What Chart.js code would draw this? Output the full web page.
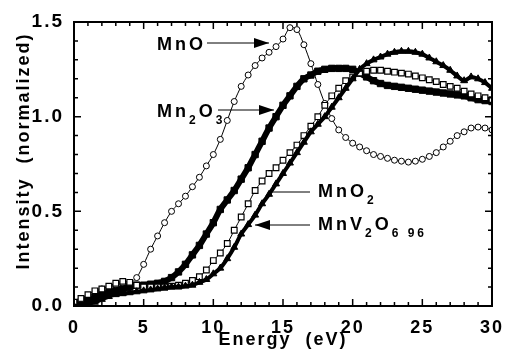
<!DOCTYPE html>
<html>
<head>
<meta charset="utf-8">
<script src="https://cdn.jsdelivr.net/npm/chart.js@4.4.0/dist/chart.umd.min.js"></script>
<style>
  html, body { margin: 0; padding: 0; background: #fff; }
  #wrap { width: 508px; height: 349px; }
</style>
</head>
<body>
<div id="wrap"><canvas id="spec" width="508" height="349"></canvas></div>
<script>
// photon energy (eV)
const energy = [
  0, 0.5, 1, 1.5, 2, 2.5, 3, 3.5, 4, 4.5, 5, 5.5, 6, 6.5, 7, 7.5, 8, 8.5, 9, 9.5,
  10, 10.5, 11, 11.5, 12, 12.5, 13, 13.5, 14, 14.5, 15, 15.5, 16, 16.5, 17, 17.5, 18, 18.5, 19, 19.5,
  20, 20.5, 21, 21.5, 22, 22.5, 23, 23.5, 24, 24.5, 25, 25.5, 26, 26.5, 27, 27.5, 28, 28.5, 29, 29.5, 30
];

const mnO = [
  0.02, 0.035, 0.05, 0.07, 0.09, 0.10, 0.11, 0.12, 0.12, 0.15, 0.22, 0.30, 0.37, 0.44, 0.50, 0.54, 0.58, 0.63, 0.68, 0.74,
  0.80, 0.88, 0.98, 1.08, 1.16, 1.22, 1.27, 1.31, 1.34, 1.37, 1.41, 1.47, 1.46, 1.38, 1.28, 1.17, 1.07, 0.99, 0.93, 0.89,
  0.86, 0.84, 0.82, 0.80, 0.79, 0.78, 0.77, 0.765, 0.76, 0.765, 0.775, 0.79, 0.81, 0.84, 0.87, 0.90, 0.92, 0.94, 0.945, 0.94, 0.93
];

const mn2O3 = [
  0.01, 0.02, 0.03, 0.045, 0.06, 0.07, 0.08, 0.09, 0.10, 0.11, 0.11, 0.115, 0.12, 0.13, 0.15, 0.18, 0.22, 0.27, 0.32, 0.38,
  0.44, 0.51, 0.56, 0.61, 0.67, 0.73, 0.80, 0.87, 0.94, 1.00, 1.06, 1.11, 1.16, 1.20, 1.22, 1.24, 1.25, 1.255, 1.255, 1.255,
  1.25, 1.23, 1.21, 1.19, 1.175, 1.165, 1.16, 1.155, 1.15, 1.145, 1.14, 1.135, 1.13, 1.125, 1.12, 1.115, 1.11, 1.10, 1.09, 1.085, 1.08
];

const mnO2 = [
  0.02, 0.04, 0.06, 0.08, 0.09, 0.105, 0.12, 0.13, 0.125, 0.11, 0.10, 0.10, 0.10, 0.10, 0.105, 0.11, 0.12, 0.135, 0.155, 0.19,
  0.24, 0.28, 0.33, 0.40, 0.47, 0.54, 0.61, 0.66, 0.70, 0.73, 0.77, 0.81, 0.85, 0.90, 0.95, 1.00, 1.06, 1.11, 1.15, 1.19,
  1.21, 1.23, 1.24, 1.245, 1.245, 1.24, 1.235, 1.23, 1.225, 1.215, 1.205, 1.195, 1.185, 1.17, 1.16, 1.15, 1.135, 1.12, 1.11, 1.10, 1.09
];

const mnV2O6 = [
  0.0, 0.0, 0.01, 0.02, 0.035, 0.05, 0.06, 0.065, 0.07, 0.075, 0.08, 0.085, 0.09, 0.095, 0.10, 0.10, 0.105, 0.11, 0.125, 0.14,
  0.17, 0.20, 0.25, 0.31, 0.38, 0.43, 0.48, 0.54, 0.59, 0.645, 0.70, 0.755, 0.81, 0.865, 0.92, 0.96, 1.00, 1.05, 1.10, 1.15,
  1.20, 1.25, 1.28, 1.30, 1.315, 1.33, 1.34, 1.345, 1.345, 1.34, 1.33, 1.31, 1.29, 1.27, 1.245, 1.215, 1.19, 1.21, 1.20, 1.18, 1.15
];

const xTicks = [0, 5, 10, 15, 20, 25, 30];
const yTicks = [0, 0.5, 1.0, 1.5];

const FONT = '"Liberation Sans", Arial, sans-serif';

function pts(arr) {
  return energy.map((e, i) => ({ x: e, y: arr[i] }));
}

// frame, inward ticks, axis titles and the labels with arrows
const decor = {
  id: 'decor',
  beforeDraw(chart) {
    chart.ctx.letterSpacing = '2px';
  },
  afterDraw(chart) {
    const ctx = chart.ctx;
    const a = chart.chartArea;
    const xs = chart.scales.x, ys = chart.scales.y;
    ctx.save();
    ctx.strokeStyle = '#000';
    ctx.fillStyle = '#000';

    ctx.lineWidth = 2;
    ctx.strokeRect(a.left, a.top, a.right - a.left, a.bottom - a.top);

    ctx.lineWidth = 1.5;
    ctx.beginPath();
    for (let v = 0; v <= 30; v++) {
      const px = xs.getPixelForValue(v);
      const len = v % 5 === 0 ? 7 : 4;
      ctx.moveTo(px, a.bottom); ctx.lineTo(px, a.bottom - len);
      ctx.moveTo(px, a.top); ctx.lineTo(px, a.top + len);
    }
    for (let k = 0; k <= 15; k++) {
      const py = ys.getPixelForValue(k / 10);
      const len = k % 5 === 0 ? 7 : 4;
      ctx.moveTo(a.left, py); ctx.lineTo(a.left + len, py);
      ctx.moveTo(a.right, py); ctx.lineTo(a.right - len, py);
    }
    ctx.stroke();

    ctx.letterSpacing = '2px';
    ctx.font = 'bold 18px ' + FONT;
    ctx.textBaseline = 'alphabetic';
    ctx.textAlign = 'center';
    ctx.fillText('Energy  (eV)', (a.left + a.right) / 2, 345);

    ctx.save();
    ctx.translate(29, 151);
    ctx.rotate(-Math.PI / 2);
    ctx.fillText('Intensity  (normalized)', 0, 0);
    ctx.restore();

    function label(parts, x, base) {
      ctx.textAlign = 'left';
      ctx.textBaseline = 'alphabetic';
      ctx.letterSpacing = '3px';
      let cx = x;
      parts.forEach(p => {
        if (p.sub) {
          ctx.font = 'bold 12px ' + FONT;
          ctx.fillText(p.t, cx, base + 7);
        } else {
          ctx.font = 'bold 18px ' + FONT;
          ctx.fillText(p.t, cx, base);
        }
        cx += ctx.measureText(p.t).width;
      });
    }
    function arrow(x1, x2, y, head) {
      ctx.lineWidth = 1;
      ctx.beginPath();
      ctx.moveTo(x1, y); ctx.lineTo(x2, y);
      ctx.stroke();
      if (head) {
        const dir = x2 > x1 ? 1 : -1;
        ctx.beginPath();
        ctx.moveTo(x2, y);
        ctx.lineTo(x2 - dir * 15, y - 5);
        ctx.lineTo(x2 - dir * 15, y + 5);
        ctx.closePath();
        ctx.fill();
      }
    }

    label([{ t: 'MnO' }], 157, 50);
    arrow(207, 269, 43, true);

    label([{ t: 'Mn' }, { t: '2', sub: true }, { t: 'O' }, { t: '3', sub: true }], 157, 117);
    arrow(218, 274, 110, true);

    label([{ t: 'MnO' }, { t: '2', sub: true }], 318, 197);
    arrow(310, 272, 192, false);

    label([{ t: 'MnV' }, { t: '2', sub: true }, { t: 'O' }, { t: '6 96', sub: true }], 318, 230);
    arrow(310, 255, 225, true);

    ctx.restore();
  }
};

new Chart(document.getElementById('spec'), {
  type: 'line',
  data: {
    datasets: [
      {
        label: 'MnV2O6.96',
        data: pts(mnV2O6),
        borderColor: '#000',
        backgroundColor: '#000',
        borderWidth: 4,
        pointStyle: 'triangle',
        pointRadius: 4,
        pointBorderWidth: 1,
        tension: 0.3
      },
      {
        label: 'MnO2',
        data: pts(mnO2),
        borderColor: '#000',
        backgroundColor: '#fff',
        borderWidth: 1,
        pointStyle: 'rect',
        pointRadius: 4,
        pointBorderWidth: 1.2,
        tension: 0.3
      },
      {
        label: 'Mn2O3',
        data: pts(mn2O3),
        borderColor: '#000',
        backgroundColor: '#000',
        borderWidth: 6,
        pointStyle: 'rect',
        pointRadius: 4.5,
        pointBorderWidth: 1,
        tension: 0.3
      },
      {
        label: 'MnO',
        data: pts(mnO),
        borderColor: '#000',
        backgroundColor: '#fff',
        borderWidth: 1,
        pointStyle: 'circle',
        pointRadius: 3,
        pointBorderWidth: 1,
        tension: 0.3
      }
    ]
  },
  options: {
    responsive: false,
    animation: false,
    layout: { padding: { left: 0, right: 16, top: 22, bottom: 0 } },
    plugins: {
      legend: { display: false },
      tooltip: { enabled: false }
    },
    scales: {
      x: {
        type: 'linear',
        min: 0,
        max: 30,
        afterBuildTicks: s => { s.ticks = xTicks.map(v => ({ value: v })); },
        afterFit: s => { s.height = 43; },
        grid: { display: false },
        border: { display: false },
        ticks: {
          color: '#000',
          font: { family: FONT, size: 18, weight: 'bold' },
          padding: 3,
          maxRotation: 0,
          callback: v => String(v)
        }
      },
      y: {
        type: 'linear',
        min: 0,
        max: 1.5,
        afterBuildTicks: s => { s.ticks = yTicks.map(v => ({ value: v })); },
        afterFit: s => { s.width = 74; },
        grid: { display: false },
        border: { display: false },
        ticks: {
          color: '#000',
          font: { family: FONT, size: 19, weight: 'bold' },
          padding: 2,
          callback: v => v.toFixed(1)
        }
      }
    }
  },
  plugins: [decor]
});
</script>
</body>
</html>
